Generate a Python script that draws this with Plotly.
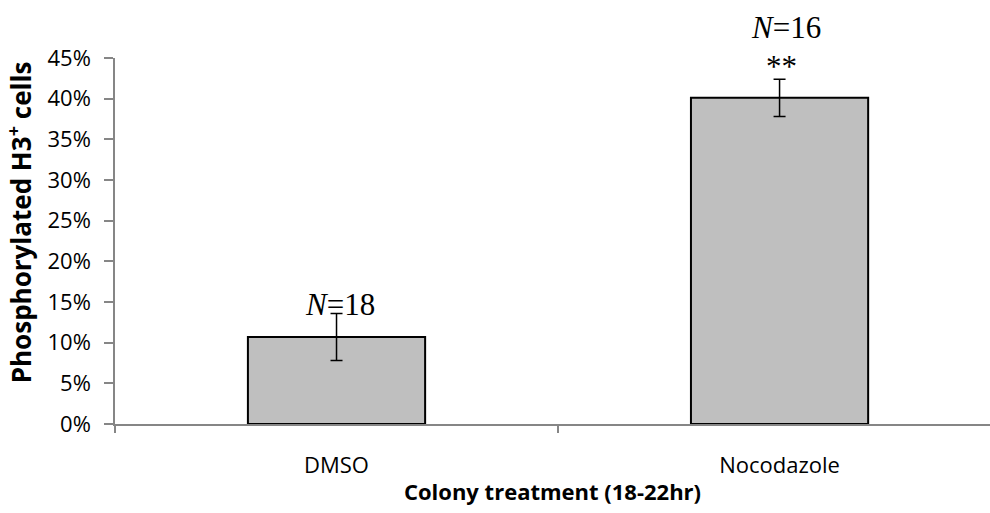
import plotly.graph_objects as go

categories = ["DMSO", "Nocodazole"]
values = [0.107, 0.401]
errors = [0.029, 0.023]
n_labels = ["<i>N</i>=18", "<i>N</i>=16"]
sig_labels = ["", "**"]
y_tickvals = [i * 0.05 for i in range(10)]
y_ticktext = [f"{i*5}%" for i in range(10)]

axis_gray = "#868686"
serif = dict(family="Liberation Serif", size=31, color="black")

fig = go.Figure()
fig.add_trace(go.Bar(
    x=categories, y=values, width=0.4,
    marker=dict(color="#BFBFBF", line=dict(color="black", width=2)),
    error_y=dict(type="data", array=errors, visible=True, color="black",
                 thickness=1.5, width=6),
))

# N labels and significance
fig.add_annotation(x=categories[0], y=0.1465, text=n_labels[0], showarrow=False,
                   font=serif, xshift=3, yanchor="middle")
fig.add_annotation(x=categories[1], yref="paper", y=1.082, text=n_labels[1], showarrow=False,
                   font=serif, xshift=6, yanchor="middle")
fig.add_annotation(x=categories[1], yref="paper", y=0.99, text=sig_labels[1], showarrow=False,
                   font=serif, xshift=2, yanchor="middle", yshift=-5)

# y-axis title
fig.add_annotation(xref="paper", yref="paper", x=-0.1086, y=0.551,
                   xanchor="center", yanchor="middle",
                   text="<b>Phosphorylated H3<sup>+</sup> cells</b>", textangle=-90,
                   showarrow=False, font=dict(family="Open Sans", size=26, color="black"))

fig.update_layout(
    width=990, height=513,
    margin=dict(l=115, r=0, t=58, b=89),
    plot_bgcolor="white", paper_bgcolor="white",
    showlegend=False,
    font=dict(family="Open Sans", size=22, color="black"),
    xaxis=dict(
        type="category", range=[-0.5, 1.475],
        showline=True, linecolor=axis_gray, linewidth=1.5,
        ticks="outside", tickson="boundaries", ticklen=7, tickcolor=axis_gray, tickwidth=1.5,
        ticklabelstandoff=21,
        showgrid=False,
        title=dict(text="<b>Colony treatment (18-22hr)</b>", standoff=6,
                   font=dict(family="Open Sans", size=22)),
    ),
    yaxis=dict(
        range=[0, 0.45], tickvals=y_tickvals, ticktext=y_ticktext,
        showline=True, linecolor=axis_gray, linewidth=1.5,
        ticks="outside", ticklen=9, tickcolor=axis_gray, tickwidth=1.5,
        ticklabelstandoff=9,
        showgrid=False, zeroline=False,
    ),
)

fig.write_html("out.html")
